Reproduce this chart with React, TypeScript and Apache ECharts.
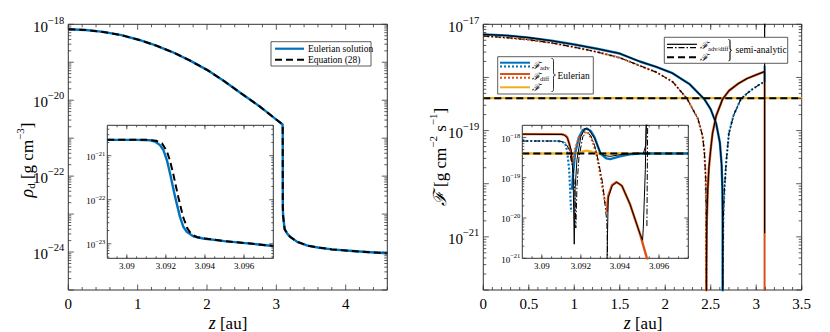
import React, { useEffect, useRef } from "react";
import * as echarts from "echarts";

const BLUE = "#0072BD";
const ORANGE = "#D95319";
const YELLOW = "#EDB120";
const INK = "#000000";
const FRAME = "#333333";
const SERIF = "Liberation Serif, DejaVu Serif, serif";

// ================= LEFT PANEL: dust density (log10 of rho_d, g cm^-3) =================
const rhoZ = [0, 0.25, 0.5, 0.75, 1, 1.25, 1.5, 1.75, 2, 2.25, 2.5, 2.75, 3, 3.09, 3.0917, 3.0922, 3.0927, 3.0934, 3.0975, 3.12, 3.16, 3.2, 3.3, 3.45, 3.6, 3.8, 4, 4.3, 4.6];
const rhoEulerLog = [-18.13, -18.15, -18.2, -18.28, -18.4, -18.55, -18.73, -18.95, -19.2, -19.5, -19.83, -20.15, -20.51, -20.64, -20.76, -21.25, -22.3, -22.83, -23.05, -23.4, -23.52, -23.6, -23.73, -23.83, -23.88, -23.93, -23.96, -24.0, -24.03];
const rhoEq28Log = [-18.13, -18.15, -18.2, -18.28, -18.4, -18.55, -18.73, -18.95, -19.2, -19.5, -19.83, -20.15, -20.51, -20.64, -20.74, -21.1, -22.1, -22.8, -23.05, -23.4, -23.52, -23.6, -23.73, -23.83, -23.88, -23.93, -23.96, -24.0, -24.03];

// inset (zoom on the shock)
const insetRhoEulerZ = [3.089, 3.0905, 3.0912, 3.09144, 3.0917, 3.09187, 3.09205, 3.09221, 3.09247, 3.09272, 3.0929, 3.09307, 3.0934, 3.0939, 3.095, 3.0962, 3.0975];
const insetRhoEulerLog = [-20.64, -20.64, -20.65, -20.68, -20.76, -20.87, -21.1, -21.4, -21.93, -22.39, -22.62, -22.73, -22.83, -22.88, -22.94, -22.99, -23.05];
const insetRhoEqZ = [3.089, 3.091, 3.0915, 3.0918, 3.09205, 3.0922, 3.09237, 3.09263, 3.09288, 3.0931, 3.0933, 3.0936, 3.094, 3.095, 3.0962, 3.0975];
const insetRhoEqLog = [-20.64, -20.64, -20.66, -20.72, -20.9, -21.1, -21.4, -21.93, -22.39, -22.65, -22.78, -22.85, -22.88, -22.94, -22.99, -23.05];

// ================= RIGHT PANEL: fluxes (log10 |F|, g cm^-2 s^-1) =================
const advPosZ = [0, 0.25, 0.5, 0.75, 1, 1.25, 1.5, 1.72, 1.9, 2.08, 2.27, 2.43, 2.5, 2.56, 2.6, 2.62, 2.628, 2.631, 2.632];
const advPosLog = [-17.19, -17.21, -17.25, -17.31, -17.38, -17.46, -17.55, -17.7, -17.8, -17.92, -18.13, -18.41, -18.6, -18.87, -19.22, -19.65, -20.1, -20.7, -23];
const diffNegZ = [0, 0.25, 0.5, 0.75, 1, 1.25, 1.5, 1.72, 1.9, 2.08, 2.24, 2.36, 2.41, 2.43, 2.445, 2.45, 2.4515, 2.452];
const diffNegLog = [-17.22, -17.25, -17.29, -17.35, -17.43, -17.52, -17.63, -17.78, -17.9, -18.08, -18.4, -18.78, -19.1, -19.4, -19.9, -20.5, -21.5, -23];
const diffPosZ = [2.452, 2.4535, 2.457, 2.467, 2.48, 2.5, 2.52, 2.56, 2.63, 2.7, 2.8, 2.9, 3.0, 3.092];
const diffPosLog = [-23, -21.5, -20.7, -20.12, -19.7, -19.35, -19.05, -18.72, -18.41, -18.25, -18.12, -18.02, -17.95, -17.89];
const advNegZ = [2.632, 2.6335, 2.637, 2.65, 2.67, 2.7, 2.75, 2.83, 2.9, 2.96, 3.03, 3.092];
const advNegLog = [-23, -21.5, -20.7, -20.12, -19.6, -19.05, -18.72, -18.41, -18.3, -18.22, -18.14, -18.08];
const fluxTotalZ = [0, 3.5];
const fluxTotalLog = [-18.39, -18.39];
// vertical features at the shock in the main panel
const spikeOrangeZ = [3.092, 3.092];
const spikeOrangeLog = [-17.89, -23];
const spikeBlueZ = [3.0922, 3.0922];
const spikeBlueLog = [-18.08, -17.78];
const spikeBlackZ = [3.0925, 3.0925];
const spikeBlackLog = [-20.93, -16.5];

// right inset
const iAdvNegZ = [3.089, 3.0908, 3.091, 3.0912, 3.0913, 3.0914, 3.09145, 3.0915];
const iAdvNegLog = [-18.09, -18.09, -18.1, -18.15, -18.35, -18.8, -19.3, -19.85];
const iAdvPosZ = [3.09155, 3.0916, 3.0917, 3.0919, 3.0921, 3.0923, 3.0925, 3.0927, 3.093, 3.0933, 3.0935, 3.094, 3.0945, 3.095, 3.0975];
const iAdvPosLog = [-19.3, -18.9, -18.4, -18.0, -17.82, -17.78, -17.84, -18.0, -18.4, -18.52, -18.54, -18.47, -18.42, -18.4, -18.4];
const iDiffPos1Z = [3.089, 3.091, 3.0912, 3.0913, 3.0914, 3.0915, 3.09155];
const iDiffPos1Log = [-17.92, -17.92, -17.95, -18.0, -18.15, -18.4, -18.6];
const iDiffNegZ = [3.0916, 3.0917, 3.0919, 3.0921, 3.09225, 3.0924, 3.0926, 3.0928, 3.09295, 3.09306, 3.09318, 3.09325];
const iDiffNegLog = [-18.6, -18.3, -18.0, -17.88, -17.86, -17.9, -18.1, -18.4, -18.8, -19.11, -19.45, -19.65];
const iDiffPos2Z = [3.09333, 3.0934, 3.0936, 3.09383, 3.0941, 3.09451, 3.09503, 3.09537, 3.0956];
const iDiffPos2Log = [-19.85, -19.45, -19.18, -19.11, -19.2, -19.65, -20.4, -20.98, -21.4];
const iFluxEulerZ = [3.089, 3.0918, 3.0921, 3.0923, 3.0925, 3.0928, 3.0975];
const iFluxEulerLog = [-18.4, -18.4, -18.35, -18.33, -18.35, -18.4, -18.4];
const iSaSolid1Z = [3.089, 3.0911, 3.0913, 3.0915, 3.0916, 3.09163, 3.09166, 3.0917, 3.0918, 3.092, 3.0922, 3.0924, 3.0927, 3.093, 3.0932, 3.0935, 3.094, 3.0945, 3.0952, 3.09532, 3.09536];
const iSaSolid1Log = [-17.92, -17.93, -18.0, -18.3, -18.9, -19.8, -20.65, -19.3, -18.55, -17.98, -17.78, -17.8, -18.02, -18.38, -18.45, -18.47, -18.43, -18.41, -18.4, -18.2, -17.5];
const iSaSolid2Z = [3.09333, 3.0934, 3.0936, 3.09383, 3.0941, 3.09451, 3.09503, 3.09516, 3.0952, 3.09525, 3.0953, 3.09535];
const iSaSolid2Log = [-21.2, -19.5, -19.2, -19.11, -19.2, -19.65, -20.4, -20.55, -20.2, -19.5, -18.8, -17.5];
const iSaDash1Z = [3.089, 3.0909, 3.0912, 3.0914, 3.0916, 3.0917, 3.09174, 3.0918, 3.0919, 3.0921, 3.0923, 3.0925, 3.0927, 3.0929, 3.0931, 3.0932, 3.09333, 3.09338];
const iSaDash1Log = [-18.09, -18.09, -18.13, -18.3, -18.8, -19.4, -20.25, -19.2, -18.5, -17.98, -17.88, -17.95, -18.2, -18.6, -19.1, -19.5, -20.1, -21.2];
const iSaDash2Z = [3.09538, 3.09542];
const iSaDash2Log = [-20.2, -17.6];
const iFluxSaZ = [3.089, 3.0975];
const iFluxSaLog = [-18.4, -18.4];

// ================= ticks / labels =================
const leftXMajor = [0, 1, 2, 3, 4];
const leftXLabels = ["0", "1", "2", "3", "4"];
const leftYMajor = [-25, -24, -23, -22, -21, -20, -19, -18];
const leftYLabelExp = [-18, -20, -22, -24];
const rightXMajor = [0, 0.5, 1, 1.5, 2, 2.5, 3, 3.5];
const rightXLabels = ["0", "0.5", "1", "1.5", "2", "2.5", "3", "3.5"];
const rightYMajor = [-22, -21, -20, -19, -18, -17];
const rightYLabelExp = [-17, -19, -21];
const insetXMajor = [3.09, 3.092, 3.094, 3.096];
const insetXLabels = ["3.09", "3.092", "3.094", "3.096"];
const leftInsetYMajor = [-23, -22, -21];
const leftInsetYLabelExp = [-21, -22, -23];
const rightInsetYMajor = [-21, -20, -19, -18];
const rightInsetYLabelExp = [-18, -19, -20, -21];

function linTicks(a: number, b: number, step: number) {
  const out: number[] = [];
  const n = Math.round((b - a) / step);
  for (let i = 0; i <= n; i++) out.push(+(a + i * step).toFixed(6));
  return out;
}
function logMinor(lo: number, hi: number) {
  const out: number[] = [];
  for (let d = Math.floor(lo) - 1; d < hi; d++) {
    for (let k = 2; k <= 9; k++) {
      const v = d + Math.log10(k);
      if (v > lo + 1e-6 && v < hi - 1e-6) out.push(v);
    }
  }
  return out;
}
const pairs = (z: number[], v: number[]) => z.map((x, i) => [x, v[i]]);

// ================= layout =================
const GRIDS = [
  { left: 68.3, top: 24.3, width: 319, height: 265.7, x: [0, 4.6], y: [-25, -18] },
  { left: 107.3, top: 125.3, width: 166, height: 133, x: [3.089, 3.0975], y: [-23.33, -20.31] },
  { left: 483.3, top: 24.3, width: 318.4, height: 265.7, x: [0, 3.5], y: [-22, -17] },
  { left: 522.3, top: 125.3, width: 166, height: 133, x: [3.089, 3.0975], y: [-21, -17.7] },
];

const BRACE_D = "M0 0 C5 0 5 3 5 10 L5 40 C5 47 6 50 10 50 C6 50 5 53 5 60 L5 90 C5 97 5 100 0 100";
let braceRegistered = false;
function registerBrace() {
  if (braceRegistered) return;
  echarts.graphic.registerShape("brace", echarts.graphic.extendPath(BRACE_D, {}) as any);
  braceRegistered = true;
}

type FrameCfg = {
  gi: number;
  xMajor: number[];
  xMinor: number[];
  xLabels: string[];
  yMajor: number[];
  yMinor: number[];
  yLabelExp: number[];
  small: boolean;
};

function frameSeries(cfg: FrameCfg) {
  const g = GRIDS[cfg.gi];
  const [x0, x1] = g.x;
  const [y0, y1] = g.y;
  const maj = cfg.small ? 4 : 5.5;
  const min = cfg.small ? 2 : 3;
  const bigFont = cfg.small ? 9 : 15;
  const supFont = cfg.small ? 6.5 : 10.5;
  return {
    type: "custom",
    xAxisIndex: cfg.gi,
    yAxisIndex: cfg.gi,
    silent: true,
    clip: false,
    z: 30,
    data: [[x0, y0]],
    renderItem: (_p: any, api: any) => {
      const ch: any[] = [];
      const L = (a: number, b: number, c: number, d: number) =>
        ch.push({ type: "line", shape: { x1: a, y1: b, x2: c, y2: d }, style: { stroke: FRAME, lineWidth: 0.8 } });
      const xt = (v: number, len: number) => {
        const pb = api.coord([v, y0]);
        const pt = api.coord([v, y1]);
        L(pb[0], pb[1], pb[0], pb[1] - len);
        L(pt[0], pt[1], pt[0], pt[1] + len);
      };
      const yt = (v: number, len: number) => {
        const pl = api.coord([x0, v]);
        const pr = api.coord([x1, v]);
        L(pl[0], pl[1], pl[0] + len, pl[1]);
        L(pr[0], pr[1], pr[0] - len, pr[1]);
      };
      cfg.xMajor.forEach((v) => xt(v, maj));
      cfg.xMinor.forEach((v) => xt(v, min));
      cfg.yMajor.forEach((v) => yt(v, maj));
      cfg.yMinor.forEach((v) => yt(v, min));
      cfg.xMajor.forEach((v, i) => {
        const pb = api.coord([v, y0]);
        ch.push({
          type: "text",
          x: pb[0],
          y: pb[1] + (cfg.small ? 3.5 : 6),
          style: { text: cfg.xLabels[i], fill: INK, fontSize: bigFont, fontFamily: SERIF, align: "center", verticalAlign: "top" },
        });
      });
      cfg.yLabelExp.forEach((e) => {
        const pl = api.coord([x0, e]);
        ch.push({
          type: "text",
          x: pl[0] - (cfg.small ? 2 : 4),
          y: pl[1],
          style: {
            text: `{b|10}{s|\u2212${Math.abs(e)}}`,
            align: "right",
            verticalAlign: "middle",
            fill: INK,
            fontFamily: SERIF,
            rich: {
              b: { fontSize: bigFont, fontFamily: SERIF, lineHeight: bigFont * 1.3, verticalAlign: "bottom", fill: INK },
              s: { fontSize: supFont, fontFamily: SERIF, lineHeight: supFont, verticalAlign: "top", fill: INK },
            },
          },
        });
      });
      return { type: "group", children: ch };
    },
  };
}

function line(gi: number, z: number[], v: number[], color: string, width: number, type: any, zz: number) {
  return {
    type: "line",
    xAxisIndex: gi,
    yAxisIndex: gi,
    data: pairs(z, v),
    showSymbol: false,
    symbol: "none",
    silent: true,
    clip: true,
    z: zz,
    lineStyle: { color, width, type, cap: "butt", join: "round" },
  };
}

const DOT = [2, 2];
const DASH = [7, 4];
const DASHDOT = [6, 2, 1.5, 2];

function buildOption() {
  const series: any[] = [
    // left main
    line(0, rhoZ, rhoEulerLog, BLUE, 2.4, "solid", 3),
    line(0, rhoZ, rhoEq28Log, INK, 2, DASH, 4),
    // left inset
    line(1, insetRhoEulerZ, insetRhoEulerLog, BLUE, 2.4, "solid", 6),
    line(1, insetRhoEqZ, insetRhoEqLog, INK, 2, DASH, 7),
    // right main - Eulerian
    line(2, fluxTotalZ, fluxTotalLog, YELLOW, 2.4, "solid", 2),
    line(2, advPosZ, advPosLog, BLUE, 2.4, "solid", 3),
    line(2, advNegZ, advNegLog, BLUE, 2.2, DOT, 3),
    line(2, diffNegZ, diffNegLog, ORANGE, 2.2, DOT, 3),
    line(2, diffPosZ, diffPosLog, ORANGE, 2.4, "solid", 3),
    line(2, spikeOrangeZ, spikeOrangeLog, ORANGE, 2, "solid", 3),
    line(2, spikeBlueZ, spikeBlueLog, BLUE, 2, "solid", 3),
    // right main - semi-analytic
    line(2, advPosZ, advPosLog, INK, 1.1, "solid", 4),
    line(2, diffPosZ, diffPosLog, INK, 1.1, "solid", 4),
    line(2, advNegZ, advNegLog, INK, 1.1, DASHDOT, 4),
    line(2, diffNegZ, diffNegLog, INK, 1.1, DASHDOT, 4),
    line(2, spikeBlackZ, spikeBlackLog, INK, 1.2, "solid", 4),
    line(2, fluxTotalZ, fluxTotalLog, INK, 2, DASH, 5),
    // right inset - Eulerian
    line(3, iFluxEulerZ, iFluxEulerLog, YELLOW, 2.4, "solid", 6),
    line(3, iAdvNegZ, iAdvNegLog, BLUE, 2.2, DOT, 6),
    line(3, iAdvPosZ, iAdvPosLog, BLUE, 2.4, "solid", 6),
    line(3, iDiffPos1Z, iDiffPos1Log, ORANGE, 2.4, "solid", 6),
    line(3, iDiffNegZ, iDiffNegLog, ORANGE, 2.2, DOT, 6),
    line(3, iDiffPos2Z, iDiffPos2Log, ORANGE, 2.4, "solid", 6),
    // right inset - semi-analytic
    line(3, iSaSolid1Z, iSaSolid1Log, INK, 1, "solid", 7),
    line(3, iSaSolid2Z, iSaSolid2Log, INK, 1, "solid", 7),
    line(3, iSaDash1Z, iSaDash1Log, INK, 1, DASHDOT, 7),
    line(3, iSaDash2Z, iSaDash2Log, INK, 1, DASHDOT, 7),
    line(3, iFluxSaZ, iFluxSaLog, INK, 2, DASH, 8),
    // frames
    frameSeries({ gi: 0, xMajor: leftXMajor, xMinor: linTicks(0, 4.6, 0.2).filter((v) => Math.abs(v - Math.round(v)) > 1e-6), xLabels: leftXLabels, yMajor: leftYMajor, yMinor: logMinor(-25, -18), yLabelExp: leftYLabelExp, small: false }),
    frameSeries({ gi: 1, xMajor: insetXMajor, xMinor: linTicks(3.0895, 3.0975, 0.0005), xLabels: insetXLabels, yMajor: leftInsetYMajor, yMinor: logMinor(-23.33, -20.31), yLabelExp: leftInsetYLabelExp, small: true }),
    frameSeries({ gi: 2, xMajor: rightXMajor, xMinor: linTicks(0, 3.5, 0.1), xLabels: rightXLabels, yMajor: rightYMajor, yMinor: logMinor(-22, -17), yLabelExp: rightYLabelExp, small: false }),
    frameSeries({ gi: 3, xMajor: insetXMajor, xMinor: linTicks(3.0895, 3.0975, 0.0005), xLabels: insetXLabels, yMajor: rightInsetYMajor, yMinor: logMinor(-21, -17.7), yLabelExp: rightInsetYLabelExp, small: true }),
  ];

  const richMath = {
    i: { fontStyle: "italic", fontSize: 18, fontFamily: SERIF, lineHeight: 22, verticalAlign: "bottom", fill: INK },
    n: { fontSize: 17, fontFamily: SERIF, lineHeight: 22, verticalAlign: "bottom", fill: INK },
    sub: { fontSize: 11, fontFamily: SERIF, lineHeight: 8, verticalAlign: "bottom", fill: INK },
    sup: { fontSize: 11, fontFamily: SERIF, lineHeight: 12, verticalAlign: "top", fill: INK },
  };
  const richLeg = {
    f: { fontSize: 10, fontFamily: SERIF, fontStyle: "italic", lineHeight: 12, verticalAlign: "middle", fill: INK },
    sub: { fontSize: 6.5, fontFamily: SERIF, lineHeight: 5, verticalAlign: "bottom", fill: INK },
  };
  const legText = (x: number, y: number, text: string) => ({
    type: "text",
    x,
    y,
    z: 50,
    style: { text, fill: INK, fontSize: 9.5, fontFamily: SERIF, align: "left", verticalAlign: "middle", rich: richLeg },
  });
  const seg = (x1: number, y1: number, x2: number, y2: number, stroke: string, lineWidth: number, lineDash?: number[]) => ({
    type: "line",
    z: 50,
    shape: { x1, y1, x2, y2 },
    style: { stroke, lineWidth, lineDash: lineDash || null },
  });

  const graphic: any[] = [
    // axis titles
    {
      type: "text", x: 25, y: 160, rotation: Math.PI / 2, z: 50,
      style: { text: "{i|\u03C1}{sub|d}{n| [g cm}{sup|\u22123}{n|]}", align: "center", verticalAlign: "middle", fontFamily: SERIF, rich: richMath },
    },
    {
      type: "text", x: 438, y: 157, rotation: Math.PI / 2, z: 50,
      style: { text: "{i|\u2131}{n| [g cm}{sup|\u22122}{n| s}{sup|\u22121}{n|]}", align: "center", verticalAlign: "middle", fontFamily: SERIF, rich: richMath },
    },
    {
      type: "text", x: 228, y: 321, z: 50,
      style: { text: "{i|z}{n| [au]}", align: "center", verticalAlign: "middle", fontFamily: SERIF, rich: richMath },
    },
    {
      type: "text", x: 643, y: 321, z: 50,
      style: { text: "{i|z}{n| [au]}", align: "center", verticalAlign: "middle", fontFamily: SERIF, rich: richMath },
    },
    // left legend
    { type: "rect", z: 49, shape: { x: 271, y: 41.7, width: 100, height: 24.3 }, style: { fill: "#fff", stroke: FRAME, lineWidth: 0.8 } },
    seg(275, 48.7, 304, 48.7, BLUE, 2.2),
    legText(308, 48.7, "Eulerian solution"),
    seg(275, 59.7, 304, 59.7, INK, 2, DASH),
    legText(308, 59.7, "Equation (28)"),
    // right legend: Eulerian
    { type: "rect", z: 49, shape: { x: 497.7, y: 56.7, width: 95.6, height: 37.3 }, style: { fill: "#fff", stroke: FRAME, lineWidth: 0.8 } },
    seg(500, 62.7, 530, 62.7, BLUE, 2),
    seg(500, 66.5, 530, 66.5, BLUE, 2, DOT),
    legText(532, 65, "{f|\u2131}{sub|adv}"),
    seg(500, 74, 530, 74, ORANGE, 2),
    seg(500, 77.7, 530, 77.7, ORANGE, 2, DOT),
    legText(532, 76, "{f|\u2131}{sub|diff}"),
    seg(500, 87.3, 530, 87.3, YELLOW, 2),
    legText(532, 87.3, "{f|\u2131}"),
    { type: "brace", x: 551.5, y: 58.5, scaleX: 0.4, scaleY: 0.33, z: 50, style: { stroke: INK, fill: "none", lineWidth: 0.8, strokeNoScale: true } },
    legText(557.5, 75.5, "Eulerian"),
    // right legend: semi-analytic
    { type: "rect", z: 49, shape: { x: 664.3, y: 37.3, width: 123.4, height: 26 }, style: { fill: "#fff", stroke: FRAME, lineWidth: 0.8 } },
    seg(667, 44.3, 697, 44.3, INK, 1.2),
    seg(667, 47.7, 697, 47.7, INK, 1.2, DASHDOT),
    legText(700, 45.8, "{f|\u2131}{sub|adv/diff}"),
    seg(667, 57.3, 697, 57.3, INK, 2, DASH),
    legText(700, 57.3, "{f|\u2131}"),
    { type: "brace", x: 728, y: 39.5, scaleX: 0.4, scaleY: 0.215, z: 50, style: { stroke: INK, fill: "none", lineWidth: 0.8, strokeNoScale: true } },
    legText(735.5, 50, "semi-analytic"),
  ];

  return {
    animation: false,
    backgroundColor: "#ffffff",
    textStyle: { fontFamily: SERIF },
    grid: GRIDS.map((g, i) => ({
      left: g.left,
      top: g.top,
      width: g.width,
      height: g.height,
      show: true,
      backgroundColor: i % 2 === 1 ? "#ffffff" : "transparent",
      borderColor: FRAME,
      borderWidth: 1,
      containLabel: false,
      z: i % 2 === 1 ? 5 : 0,
    })),
    xAxis: GRIDS.map((g, i) => ({ type: "value", gridIndex: i, min: g.x[0], max: g.x[1], show: false })),
    yAxis: GRIDS.map((g, i) => ({ type: "value", gridIndex: i, min: g.y[0], max: g.y[1], show: false })),
    series,
    graphic,
  };
}

export default function App() {
  const ref = useRef<HTMLDivElement>(null);
  useEffect(() => {
    registerBrace();
    const chart = echarts.init(ref.current!, undefined, { renderer: "svg" });
    chart.setOption(buildOption() as any);
    return () => chart.dispose();
  }, []);
  return (
    <div
      ref={ref}
      style={{ position: "fixed", left: 0, top: 0, width: 830, height: 332, background: "#ffffff" }}
    />
  );
}
